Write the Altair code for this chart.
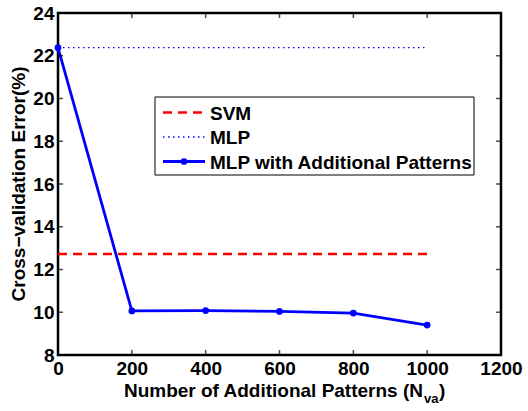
import altair as alt
import pandas as pd

# ---- data ----
n_additional = [0, 200, 400, 600, 800, 1000]
err_additional = [22.38, 10.06, 10.08, 10.04, 9.96, 9.40]
svm_x = [0, 1000]
svm_err = [12.72, 12.72]
mlp_x = [0, 1000]
mlp_err = [22.38, 22.38]
x_ticks = [0, 200, 400, 600, 800, 1000, 1200]
y_ticks = [8, 10, 12, 14, 16, 18, 20, 22, 24]
legend_labels = ["SVM", "MLP", "MLP with Additional Patterns"]

FONT = "Liberation Sans"
W, H = 443, 342

xs = alt.Scale(domain=[0, 1200], nice=False, zero=False)
ys = alt.Scale(domain=[8, 24], nice=False, zero=False)

df_add = pd.DataFrame({"n": n_additional, "err": err_additional})
df_svm = pd.DataFrame({"n": svm_x, "err": svm_err})
df_mlp = pd.DataFrame({"n": mlp_x, "err": mlp_err})
df_xt = pd.DataFrame({"v": x_ticks})
df_yt = pd.DataFrame({"v": y_ticks})

xenc = alt.X("n:Q", scale=xs, axis=alt.Axis(values=x_ticks, title=None, format="d"))
yenc = alt.Y("err:Q", scale=ys, axis=alt.Axis(values=y_ticks, title=None, format="d"))

svm = alt.Chart(df_svm).mark_line(color="#ff0000", strokeWidth=2.5, strokeDash=[9, 6]).encode(x=xenc, y=yenc)
mlp = alt.Chart(df_mlp).mark_line(color="#0000ff", strokeWidth=1.3, strokeDash=[1.5, 3.5]).encode(x=xenc, y=yenc)
add_line = alt.Chart(df_add).mark_line(color="#0000ff", strokeWidth=2.8).encode(x=xenc, y=yenc)
add_pts = alt.Chart(df_add).mark_point(filled=True, color="#0000ff", size=45, opacity=1, shape="circle").encode(x=xenc, y=yenc)

tick_x_b = alt.Chart(df_xt).mark_tick(orient="vertical", clip=True, size=10, thickness=1.5, color="black").encode(
    x=alt.X("v:Q", scale=xs), y=alt.value(H))
tick_x_t = alt.Chart(df_xt).mark_tick(orient="vertical", clip=True, size=10, thickness=1.5, color="black").encode(
    x=alt.X("v:Q", scale=xs), y=alt.value(0))
tick_y_l = alt.Chart(df_yt).mark_tick(orient="horizontal", clip=True, size=10, thickness=1.5, color="black").encode(
    y=alt.Y("v:Q", scale=ys), x=alt.value(0))
tick_y_r = alt.Chart(df_yt).mark_tick(orient="horizontal", clip=True, size=10, thickness=1.5, color="black").encode(
    y=alt.Y("v:Q", scale=ys), x=alt.value(W))

# ---- legend ----
base = alt.Chart(pd.DataFrame({"a": [0]}))
leg_box = base.mark_rect(fill="white", stroke="black", strokeWidth=1).encode(
    x=alt.value(97), x2=alt.value(416), y=alt.value(84), y2=alt.value(162))
leg_rows = [99.5, 124, 148.5]
leg_svm = base.mark_rule(color="#ff0000", strokeWidth=2.5, strokeDash=[9, 6]).encode(
    x=alt.value(105), x2=alt.value(147), y=alt.value(leg_rows[0]))
leg_mlp = base.mark_rule(color="#0000ff", strokeWidth=1.3, strokeDash=[1.5, 3.5]).encode(
    x=alt.value(105), x2=alt.value(147), y=alt.value(leg_rows[1]))
leg_add = base.mark_rule(color="#0000ff", strokeWidth=2.8).encode(
    x=alt.value(105), x2=alt.value(147), y=alt.value(leg_rows[2]))
leg_add_pt = base.mark_point(filled=True, color="#0000ff", size=45, opacity=1, shape="circle").encode(
    x=alt.value(126), y=alt.value(leg_rows[2]))
leg_texts = [
    base.mark_text(text=lbl, font=FONT, fontWeight="bold", fontSize=19, align="left", baseline="middle",
                   color="black").encode(x=alt.value(152), y=alt.value(yy + 1))
    for lbl, yy in zip(legend_labels, leg_rows)
]

# ---- axis titles ----
XN = 365
TB = 384
xt_main = base.mark_text(text="Number of Additional Patterns (N", font=FONT, fontWeight="bold", fontSize=19,
                         align="right", baseline="alphabetic", color="black").encode(
    x=alt.value(XN), y=alt.value(TB))
xt_sub = base.mark_text(text="va", font=FONT, fontWeight="bold", fontSize=13,
                        align="left", baseline="alphabetic", color="black").encode(
    x=alt.value(XN + 1), y=alt.value(TB + 6))
xt_close = base.mark_text(text=")", font=FONT, fontWeight="bold", fontSize=19,
                          align="left", baseline="alphabetic", color="black").encode(
    x=alt.value(XN + 16), y=alt.value(TB))
yt = base.mark_text(text="Cross\u2212validation Error(%)", font=FONT, fontWeight="bold", fontSize=19,
                    align="center", baseline="middle", angle=270, color="black").encode(
    x=alt.value(-39), y=alt.value(H / 2))

chart = alt.layer(
    svm, mlp, add_line, add_pts,
    tick_x_b, tick_x_t, tick_y_l, tick_y_r,
    leg_box, leg_svm, leg_mlp, leg_add, leg_add_pt, *leg_texts,
    xt_main, xt_sub, xt_close, yt,
).properties(
    width=W, height=H,
    autosize=alt.AutoSizeParams(type="none"),
    padding={"left": 58, "top": 13, "right": 27, "bottom": 56},
    background="white",
).configure_view(
    stroke="black", strokeWidth=2.5
).configure_axis(
    domain=False, ticks=False, grid=False,
    labelFont=FONT, labelFontWeight="bold", labelFontSize=19, labelColor="black",
    labelPadding=4, labelOverlap=False, labelFlush=False,
)

chart.save("out.html", embed_options={"renderer": "svg", "actions": False})
